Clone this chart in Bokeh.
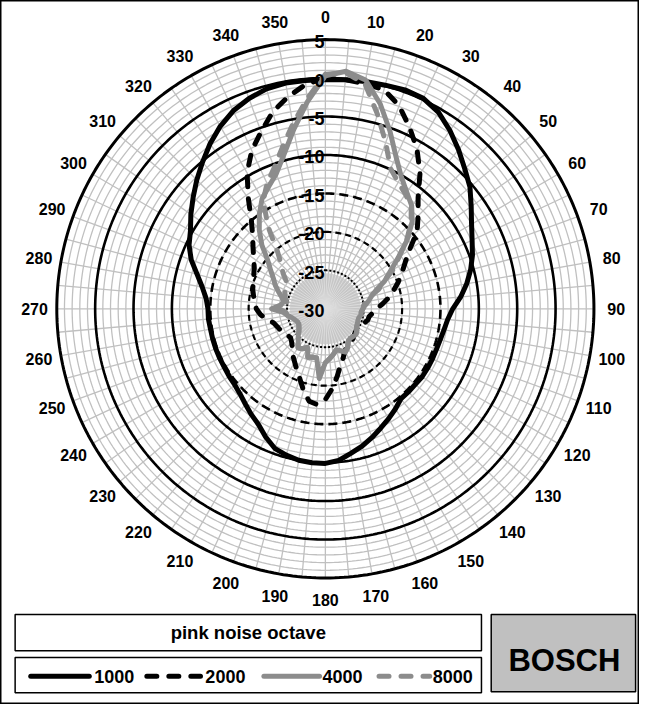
import numpy as np
from bokeh.plotting import figure
from bokeh.models import Range1d
from bokeh.embed import file_html
from bokeh.resources import INLINE
from bokeh.core.properties import value

# ---------------- data ----------------
angles_deg = list(range(0, 360, 5))

spl_1000 = [-0.2, -0.1, 0.0, 0.1, 0.3, 0.2, -0.5, -1.7, -3.0, -4.3, -5.4, -6.8,
            -8.0, -8.9, -9.6, -10.4, -11.3, -12.3, -13.4, -14.0, -14.3, -14.5, -14.6, -14.6,
            -14.6, -14.6, -14.7, -14.7, -14.7, -14.1, -13.5, -12.9, -12.2, -11.5, -10.9, -10.2,
            -9.9, -9.9, -10.0, -10.3, -10.7, -11.6, -12.6, -13.2, -13.8, -14.3, -14.6, -14.7,
            -14.8, -14.8, -14.8, -14.8, -14.8, -14.7, -14.7, -14.4, -13.7, -12.7, -11.4, -10.4,
            -9.7, -8.6, -7.5, -6.3, -5.1, -3.8, -2.6, -1.6, -0.9, -0.4, -0.2, -0.2]

spl_2000 = [0.0, -0.1, -0.3, -0.5, -1.9, -4.0, -6.1, -8.5, -11.2, -12.9, -14.4, -16.6,
            -18.0, -19.0, -19.9, -20.8, -21.6, -22.5, -23.3, -23.8, -24.2, -24.3, -24.6, -24.8,
            -25.0, -25.1, -25.0, -24.8, -24.6, -24.4, -24.2, -24.0, -23.2, -22.4, -21.1, -19.6,
            -18.2, -17.5, -17.8, -19.0, -20.3, -21.2, -22.0, -22.6, -23.3, -23.8, -24.1, -24.0,
            -23.8, -23.5, -23.3, -23.0, -22.2, -21.5, -21.0, -20.8, -20.5, -20.2, -20.0, -19.7,
            -19.3, -18.6, -17.7, -16.6, -15.0, -12.5, -9.6, -7.3, -5.5, -3.5, -2.0, -0.7]

spl_4000 = [0.3, 1.0, 0.2, -2.4, -5.4, -8.2, -10.2, -11.5, -12.5, -14.0, -16.1, -18.4,
            -20.2, -21.5, -23.0, -23.8, -24.3, -24.8, -25.1, -25.3, -25.3, -25.5, -25.5, -25.4,
            -25.3, -25.0, -24.8, -24.9, -25.0, -24.8, -24.2, -23.8, -24.2, -24.5, -24.0, -23.5,
            -23.0, -20.9, -23.5, -23.5, -23.3, -24.5, -24.0, -23.8, -24.5, -25.0, -25.5, -25.8,
            -26.0, -26.0, -25.8, -25.5, -25.0, -24.5, -23.0, -24.2, -24.5, -24.1, -23.5, -22.8,
            -22.2, -21.3, -20.2, -18.3, -16.6, -15.0, -13.5, -12.5, -11.3, -9.2, -6.3, -3.0]

spl_8000 = [0.5, 0.8, -0.3, -3.8, -7.0, -9.9, -11.0, -11.8, -12.6, -14.2, -16.2, -18.3,
            -19.8, -21.6, -22.6, -24.0, -24.6, -25.0, -25.1, -25.3, -25.3, -25.5, -25.5, -25.4,
            -25.3, -25.0, -24.8, -24.9, -25.0, -24.8, -24.2, -23.8, -24.2, -24.5, -24.0, -23.5,
            -23.0, -21.5, -23.5, -23.5, -23.3, -24.5, -24.0, -23.8, -24.5, -25.0, -25.5, -25.8,
            -26.0, -26.0, -25.8, -25.5, -25.0, -24.8, -24.0, -24.6, -24.9, -24.6, -24.4, -24.2,
            -24.1, -23.8, -22.8, -21.9, -20.3, -17.0, -13.8, -12.0, -10.5, -8.3, -5.6, -2.6]

series_names = ["1000", "2000", "4000", "8000"]
angle_ticks = list(range(0, 360, 10))
angle_tick_labels = [str(a) for a in angle_ticks]
ring_values = [5, 0, -5, -10, -15, -20, -25, -30]
ring_labels = ["5", "0", "-5", "-10", "-15", "-20", "-25", "-30"]
title_text = "pink noise octave"
brand_text = "BOSCH"

# ---------------- layout (reference pixel space 655 x 720) ----------------
CX, CY = 333.0, 315.3
R_OUT = 275.3
DB_MIN, DB_MAX = -30.0, 5.0
K = R_OUT / (DB_MAX - DB_MIN)
FONT = value("Liberation Sans")
GRID = "#c0c0c0"
GRAY = "#8c8c8c"


def to_xy(theta_deg, db):
    t = np.radians(np.asarray(theta_deg, dtype=float))
    r = (np.asarray(db, dtype=float) - DB_MIN) * K
    return CX + r * np.sin(t), CY - r * np.cos(t)


p = figure(width=639, height=704, x_range=Range1d(0, 655), y_range=Range1d(720, 0),
           output_backend="svg", toolbar_location=None, x_axis_type=None, y_axis_type=None,
           min_border=0, outline_line_color="black", outline_line_width=2)
p.grid.visible = False
p.background_fill_color = "white"

# spokes every 5 degrees
sp = np.arange(0, 360, 5)
sx, sy = to_xy(sp, np.full(len(sp), DB_MAX))
p.segment(x0=[CX] * len(sp), y0=[CY] * len(sp), x1=sx, y1=sy, line_color=GRID, line_width=1.3)

# minor rings every dB
circ = np.linspace(0, 360, 361)
for d in range(-29, 5):
    x, y = to_xy(circ, np.full(len(circ), d))
    p.line(x, y, line_color=GRID, line_width=1.3)

# central gray disk with light streaks
dx, dy = to_xy(circ, np.full(len(circ), -25.4))
p.patch(dx, dy, fill_color="#c6c6c6", line_color=None)
sp2 = np.arange(0, 360, 5) + 2.5
ix, iy = to_xy(sp2, np.full(len(sp2), -25.4))
p.segment(x0=[CX] * len(sp2), y0=[CY] * len(sp2), x1=ix, y1=iy, line_color="#dedede", line_width=0.9)

# major rings
ring_style = {5: ("solid", 3.0), 0: ("solid", 2.6), -5: ("solid", 2.6), -10: ("solid", 2.6),
              -15: ("9 5", 2.6), -20: ("6 4", 2.2), -25: ("2 2", 2.0)}
for d, (dash, w) in ring_style.items():
    x, y = to_xy(circ, np.full(len(circ), d))
    p.line(x, y, line_color="black", line_width=w, line_dash=dash)

# curves (8000 drawn beneath 4000)
styles = [("black", "solid"), ("black", "10 12"), (GRAY, "solid"), (GRAY, "10 12")]
series = [spl_1000, spl_2000, spl_4000, spl_8000]
for idx in [0, 1, 3, 2]:
    vals = series[idx]
    col, dash = styles[idx]
    a = angles_deg + [angles_deg[0] + 360]
    v = vals + [vals[0]]
    x, y = to_xy(a, v)
    p.line(x, y, line_color=col, line_width=5, line_dash=dash, line_join="round",
           line_cap="round" if dash != "solid" else "butt")

# angle labels
lx, ly = to_xy(angle_ticks, np.full(len(angle_ticks), DB_MAX + 22.8 / K))
p.text(x=lx, y=ly, text=angle_tick_labels, text_font=FONT, text_font_style="bold",
       text_font_size="16px", text_align="center", text_baseline="middle", text_color="black")

# ring labels
rx, ry = to_xy([0] * len(ring_values), ring_values)
p.text(x=rx - 1, y=ry + 2, text=ring_labels, text_font=FONT, text_font_style="bold",
       text_font_size="18px", text_align="right", text_baseline="middle", text_color="black")

# boxes
p.quad(left=[15], right=[493], top=[628], bottom=[665], fill_color="white",
       line_color="black", line_width=1.5)
p.quad(left=[15], right=[493], top=[672], bottom=[708], fill_color="white",
       line_color="black", line_width=1.5)
p.quad(left=[503], right=[651], top=[628], bottom=[707], fill_color="#c0c0c0",
       line_color="black", line_width=1.5)
p.text(x=[254], y=[646], text=[title_text], text_font=FONT, text_font_style="bold",
       text_font_size="18.5px", text_align="center", text_baseline="middle")
p.text(x=[578], y=[675], text=[brand_text], text_font=FONT, text_font_style="bold",
       text_font_size="31px", text_align="center", text_baseline="middle")

# legend
leg_line = [(31, 91), (150, 205), (270, 327), (388, 440)]
leg_text_x = [96, 210, 330, 443]
for i, name in enumerate(series_names):
    col, dash = styles[i]
    x0, x1 = leg_line[i]
    p.line([x0, x1], [691, 691], line_color=col, line_width=5, line_dash=dash,
           line_cap="round")
    p.text(x=[leg_text_x[i]], y=[691], text=[name], text_font=FONT, text_font_style="bold",
           text_font_size="18px", text_align="left", text_baseline="middle")

open("out.html", "w").write(file_html(p, INLINE))
